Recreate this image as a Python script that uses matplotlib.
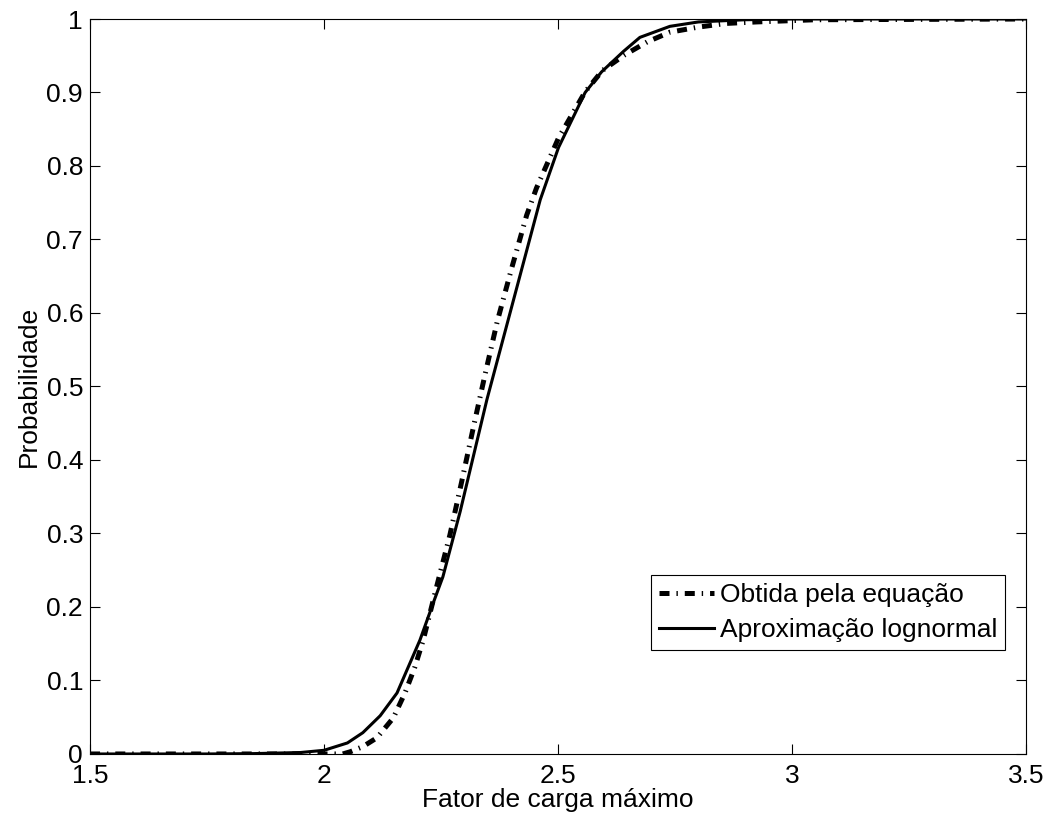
import matplotlib
matplotlib.use('Agg')
import matplotlib.pyplot as plt

# curva obtida pela equação (lida ponto a ponto)
x_eq = [1.50, 2.04, 2.056, 2.083, 2.113, 2.148, 2.173, 2.194, 2.212, 2.240,
        2.269, 2.294, 2.319, 2.344, 2.370, 2.401, 2.433, 2.454, 2.501, 2.558,
        2.595, 2.642, 2.691, 2.739, 2.800, 2.860, 2.924, 3.050, 3.50]
p_eq = [0.0, 0.0, 0.003, 0.010, 0.022, 0.049, 0.083, 0.118, 0.155, 0.226,
        0.298, 0.370, 0.444, 0.516, 0.588, 0.661, 0.733, 0.770, 0.838, 0.901,
        0.930, 0.951, 0.969, 0.982, 0.989, 0.994, 0.996, 0.999, 1.0]

# aproximação lognormal
x_ln = [1.50, 1.75, 1.85, 1.95, 2.00, 2.05, 2.083, 2.12, 2.156, 2.205,
        2.236, 2.254, 2.291, 2.348, 2.400, 2.462, 2.501, 2.558, 2.593, 2.640,
        2.675, 2.739, 2.800, 2.900, 3.00, 3.50]
p_ln = [0.0, 0.0, 0.0005, 0.002, 0.005, 0.015, 0.029, 0.052, 0.083, 0.155,
        0.210, 0.241, 0.330, 0.482, 0.606, 0.754, 0.825, 0.900, 0.928, 0.956,
        0.975, 0.990, 0.996, 0.999, 1.0, 1.0]

x_ticks = [1.5, 2, 2.5, 3, 3.5]
y_ticks = [0, 0.1, 0.2, 0.3, 0.4, 0.5, 0.6, 0.7, 0.8, 0.9, 1]

plt.rcParams['font.family'] = ['Liberation Sans', 'DejaVu Sans']
plt.rcParams['lines.scale_dashes'] = False

fig = plt.figure(figsize=(10.48, 8.19), dpi=100)
ax = fig.add_axes([0.0859, 0.0794, 0.8931, 0.8974])

ax.plot(x_eq, p_eq, color='black', linewidth=3.6, linestyle=(0, (7.2, 5.0, 1.0, 5.0)),
        dash_capstyle='butt', label='Obtida pela equação')
ax.plot(x_ln, p_ln, color='black', linewidth=2.2, label='Aproximação lognormal')

ax.set_xlim(1.5, 3.5)
ax.set_ylim(0, 1)
ax.set_xticks(x_ticks)
ax.set_xticklabels(['1.5', '2', '2.5', '3', '3.5'])
ax.set_yticks(y_ticks)
ax.set_yticklabels(['0', '0.1', '0.2', '0.3', '0.4', '0.5', '0.6', '0.7', '0.8', '0.9', '1'])
ax.tick_params(direction='in', length=7, width=0.8, top=True, right=True,
               labelsize=19)
ax.tick_params(axis='x', pad=7)
ax.tick_params(axis='y', pad=5)
for s in ax.spines.values():
    s.set_linewidth(0.8)

ax.set_xlabel('Fator de carga máximo', fontsize=19, labelpad=0)
ax.set_ylabel('Probabilidade', fontsize=19, labelpad=4)

leg = ax.legend(loc='lower right', bbox_to_anchor=(0.9776, 0.1415), fontsize=19,
                frameon=True, fancybox=False, edgecolor='black', framealpha=1,
                handlelength=2.1, handletextpad=0.22, borderpad=0.3,
                labelspacing=0.42, borderaxespad=0)
leg.get_frame().set_linewidth(0.8)

fig.savefig('out.png', dpi=100)
